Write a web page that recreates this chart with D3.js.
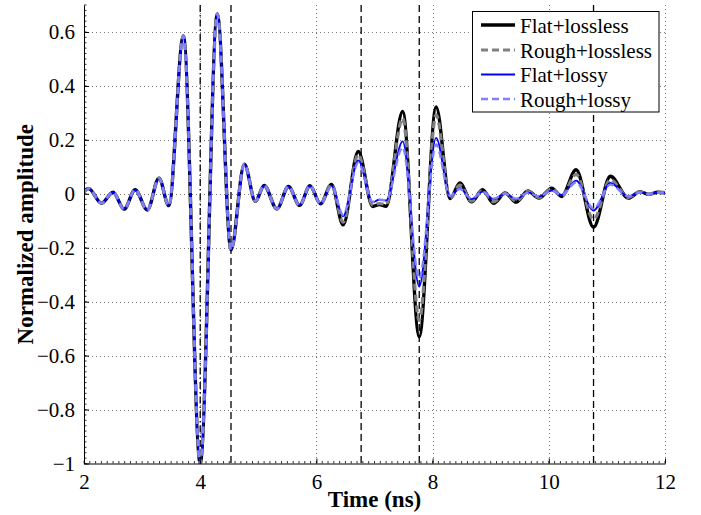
<!DOCTYPE html>
<html><head><meta charset="utf-8">
<script src="https://cdn.jsdelivr.net/npm/d3@7"></script>
<style>body{margin:0;background:#fff}svg{display:block}</style>
</head><body>
<svg id="c" width="701" height="515"></svg>
<script>
const time = [2.00, 2.08, 2.30, 2.50, 2.69, 2.88, 3.09, 3.29, 3.46, 3.71, 4.00, 4.295, 4.53, 4.76, 4.95, 5.10, 5.32, 5.52, 5.71, 5.89, 6.07, 6.26, 6.46, 6.72, 6.97, 7.08, 7.20, 7.485, 7.77, 8.06, 8.30, 8.47, 8.67, 8.86, 9.05, 9.25, 9.44, 9.64, 9.83, 10.05, 10.22, 10.47, 10.77, 11.06, 11.37, 11.57, 11.72, 11.88, 12.00];
const flatLossless = [0.008, 0.019, -0.035, 0.006, -0.057, 0.015, -0.060, 0.058, -0.044, 0.585, -1.00, 0.667, -0.208, 0.110, -0.028, 0.031, -0.056, 0.027, -0.043, 0.030, -0.037, 0.035, -0.115, 0.157, -0.047, -0.040, -0.046, 0.305, -0.530, 0.322, -0.018, 0.040, -0.030, 0.015, -0.035, 0.003, -0.031, 0.011, -0.016, 0.021, -0.010, 0.089, -0.124, 0.065, -0.016, 0.008, -0.002, 0.006, 0.004];
const roughLossless = [0.008, 0.019, -0.035, 0.006, -0.057, 0.015, -0.060, 0.058, -0.044, 0.585, -1.00, 0.667, -0.208, 0.110, -0.028, 0.031, -0.056, 0.027, -0.043, 0.030, -0.037, 0.034, -0.105, 0.145, -0.042, -0.036, -0.040, 0.280, -0.470, 0.293, -0.015, 0.032, -0.027, 0.012, -0.030, 0.002, -0.027, 0.009, -0.014, 0.018, -0.008, 0.072, -0.095, 0.052, -0.013, 0.007, -0.002, 0.005, 0.004];
const flatLossy = [0.008, 0.019, -0.035, 0.006, -0.057, 0.015, -0.060, 0.058, -0.044, 0.585, -1.00, 0.667, -0.208, 0.110, -0.028, 0.031, -0.056, 0.027, -0.043, 0.030, -0.037, 0.030, -0.083, 0.124, -0.032, -0.022, -0.025, 0.194, -0.344, 0.207, -0.010, 0.021, -0.020, 0.008, -0.020, 0.000, -0.020, 0.005, -0.010, 0.012, -0.004, 0.049, -0.062, 0.040, -0.010, 0.005, -0.001, 0.005, 0.004];
const roughLossy = [0.008, 0.019, -0.035, 0.006, -0.057, 0.015, -0.060, 0.058, -0.044, 0.585, -1.00, 0.667, -0.208, 0.110, -0.028, 0.031, -0.056, 0.027, -0.043, 0.030, -0.037, 0.029, -0.078, 0.115, -0.030, -0.022, -0.024, 0.172, -0.315, 0.183, -0.008, 0.018, -0.018, 0.007, -0.018, 0.000, -0.018, 0.004, -0.009, 0.011, -0.004, 0.042, -0.055, 0.034, -0.009, 0.005, -0.001, 0.005, 0.004];
const seriesNames = ["Flat+lossless", "Rough+lossless", "Flat+lossy", "Rough+lossy"];
const markerTimes = [4.0, 4.53, 6.77, 7.77, 10.77];
const xTicks = [2, 4, 6, 8, 10, 12];
const yTicks = [-1, -0.8, -0.6, -0.4, -0.2, 0, 0.2, 0.4, 0.6];
const xLabel = "Time (ns)";
const yLabel = "Normalized amplitude";

const svg = d3.select("#c");
const L = 84, R = 665, T = 5, B = 463.5;
const x = d3.scaleLinear().domain([2, 12]).range([L, R]);
const y = d3.scaleLinear().domain([-1, 0.7]).range([B, T]);
const FONT = "'Liberation Serif','Times New Roman',Times,serif";
const fmt = v => (v < 0 ? "\u2212" : "") + String(Math.abs(+v.toFixed(1)));

svg.append("rect").attr("width", 701).attr("height", 515).attr("fill", "#fff");

// grid
const grid = svg.append("g").attr("stroke", "#777").attr("stroke-width", 1).attr("stroke-dasharray", "1,3");
grid.selectAll("line.gx").data(xTicks.filter(d => d > 2)).join("line")
  .attr("x1", d => Math.round(x(d)) + 0.5).attr("x2", d => Math.round(x(d)) + 0.5).attr("y1", T).attr("y2", B);
grid.selectAll("line.gy").data(yTicks.filter(d => d > -1)).join("line")
  .attr("y1", d => Math.round(y(d)) + 0.5).attr("y2", d => Math.round(y(d)) + 0.5).attr("x1", L).attr("x2", R);

// marker lines
svg.append("g").selectAll("line").data(markerTimes).join("line")
  .attr("x1", d => x(d)).attr("x2", d => x(d)).attr("y1", T).attr("y2", B)
  .attr("stroke", "#000").attr("stroke-width", 1.3)
  .attr("stroke-dasharray", (d, i) => i === 0 ? "7,3,1.5,3" : "7,4");

// clip
svg.append("clipPath").attr("id", "clip").append("rect")
  .attr("x", L).attr("y", T - 2).attr("width", R - L).attr("height", B - T + 2);

const styles = [
  {vals: flatLossless, color: "#000000", w: 3.4, dash: null},
  {vals: roughLossless, color: "#808080", w: 3.2, dash: "7,4"},
  {vals: flatLossy, color: "#0000ff", w: 1.8, dash: null},
  {vals: roughLossy, color: "#8080ff", w: 2.4, dash: "7,4"}
];
const line = d3.line().x(d => x(d[0])).y(d => y(d[1])).curve(d3.curveMonotoneX);
const plot = svg.append("g").attr("clip-path", "url(#clip)");
styles.forEach(s => {
  plot.append("path").datum(time.map((t, i) => [t, s.vals[i]]))
    .attr("d", line).attr("fill", "none").attr("stroke", s.color)
    .attr("stroke-width", s.w).attr("stroke-dasharray", s.dash)
    .attr("stroke-linejoin", "round");
});

// axes
const xAxis = d3.axisBottom(x).tickValues(xTicks).tickSizeInner(-5).tickSizeOuter(0).tickPadding(11).tickFormat(d => d);
const yAxis = d3.axisLeft(y).tickValues(yTicks).tickSizeInner(-5).tickSizeOuter(0).tickPadding(9).tickFormat(fmt);
const gx = svg.append("g").attr("transform", `translate(0,${B})`).call(xAxis);
const gy = svg.append("g").attr("transform", `translate(${L},0)`).call(yAxis);
[gx, gy].forEach(g => {
  g.attr("font-family", null).attr("font-size", null);
  g.select(".domain").attr("stroke", "#000").attr("stroke-width", 1);
  g.selectAll(".tick line").attr("stroke", "#000");
  g.selectAll("text").style("font-family", FONT).style("font-size", "21px").attr("fill", "#000");
});
gx.selectAll("text").attr("dy", "0.71em");
// minor ticks
const xMinor = d3.range(2, 12.0001, 0.1);
const yMinor = d3.range(-1, 0.7001, 0.02);
svg.append("g").selectAll("line").data(xMinor).join("line")
  .attr("x1", d => x(d)).attr("x2", d => x(d)).attr("y1", B).attr("y2", B - 2.5)
  .attr("stroke", "#000").attr("stroke-width", 0.8);
svg.append("g").selectAll("line").data(yMinor).join("line")
  .attr("y1", d => y(d)).attr("y2", d => y(d)).attr("x1", L).attr("x2", L + 2.5)
  .attr("stroke", "#000").attr("stroke-width", 0.8);

// axis labels
svg.append("text").attr("x", (L + R) / 2).attr("y", 507).attr("text-anchor", "middle")
  .style("font-family", FONT).attr("font-weight", "bold").attr("font-size", 23).text(xLabel);
svg.append("text").attr("transform", `translate(33,${(T + B) / 2}) rotate(-90)`).attr("text-anchor", "middle")
  .style("font-family", FONT).attr("font-weight", "bold").attr("font-size", 23).text(yLabel);

// legend
const lg = svg.append("g");
lg.append("rect").attr("x", 472.5).attr("y", 11.5).attr("width", 186.5).attr("height", 100.5)
  .attr("fill", "#fff").attr("stroke", "#000").attr("stroke-width", 1);
const rows = [25, 50, 74.5, 99];
styles.forEach((s, i) => {
  lg.append("line").attr("x1", 481).attr("x2", 515).attr("y1", rows[i]).attr("y2", rows[i])
    .attr("stroke", s.color).attr("stroke-width", s.w).attr("stroke-dasharray", s.dash);
  lg.append("text").attr("x", 520).attr("y", rows[i] + 7.5).style("font-family", FONT)
    .attr("font-size", 21).text(seriesNames[i]);
});
</script>
</body></html>
